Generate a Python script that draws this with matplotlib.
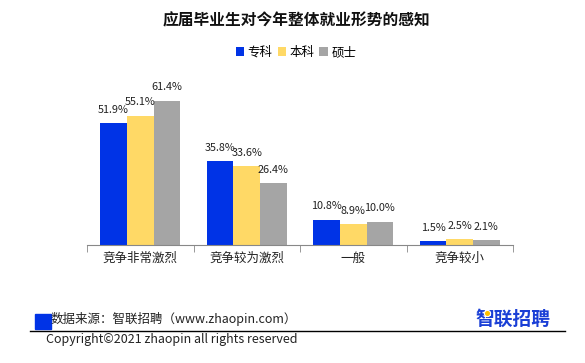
import matplotlib
matplotlib.use("Agg")
import matplotlib.pyplot as plt
import numpy as np

plt.rcParams['font.family'] = ['Noto Sans CJK SC', 'DejaVu Sans']

categories = ['竞争非常激烈', '竞争较为激烈', '一般', '竞争较小']
series_names = ['专科', '本科', '硕士']
zhuanke = [51.9, 35.8, 10.8, 1.5]
benke = [55.1, 33.6, 8.9, 2.5]
shuoshi = [61.4, 26.4, 10.0, 2.1]
colors = ['#0033E6', '#FFD966', '#A5A5A5']

W, H = 585, 363
fig = plt.figure(figsize=(W/100, H/100), dpi=100)
ax = fig.add_axes([87/W, 1-245/H, (513-87)/W, (245-80.5)/H])

x = np.arange(len(categories))
bw = 0.25
for i, (vals, c, name) in enumerate(zip([zhuanke, benke, shuoshi], colors, series_names)):
    bars = ax.bar(x + (i-1)*bw, vals, width=bw, color=c, label=name)
    for b, v in zip(bars, vals):
        ax.annotate(f'{v}%', (b.get_x()+b.get_width()/2, v), xytext=(0, 6),
                    textcoords='offset points', ha='center', va='bottom',
                    fontsize=7.8, color='#222222')

ax.set_xlim(-0.5, len(categories)-0.5)
ax.set_ylim(0, 70)
for s in ['top', 'right', 'left']:
    ax.spines[s].set_visible(False)
ax.spines['bottom'].set_color('#888888')
ax.yaxis.set_visible(False)
ax.set_xticks(x)
ax.set_xticklabels(categories, fontsize=9, color='#222222')
ax.tick_params(axis='x', which='major', length=0, pad=5)
ax.set_xticks(np.arange(-0.5, len(categories)), minor=True)
ax.tick_params(axis='x', which='minor', length=5, color='#888888', direction='out')

fig.text(296/W, 1-20.5/H, '应届毕业生对今年整体就业形势的感知', ha='center', va='center',
         fontsize=11.3, fontweight='bold', color='#111111')

leg = fig.legend(loc='center', bbox_to_anchor=(296/W, 1-52.5/H), ncol=3, frameon=False,
                 fontsize=9, handlelength=0.65, handleheight=0.65, handletextpad=0.3,
                 columnspacing=0.4)

# footer
fig.patches.append(plt.Rectangle((35/W, 1-329/H), 16/W, 15/H, transform=fig.transFigure,
                                 color='#0033E6', figure=fig))
fig.text(51/W, 1-319/H, '数据来源：智联招聘（www.zhaopin.com）', ha='left', va='center',
         fontsize=9, color='#222222')
fig.add_artist(plt.Line2D([30/W, 565/W], [1-331/H, 1-331/H], transform=fig.transFigure,
                          color='black', linewidth=1))
fig.text(46/W, 1-340/H, 'Copyright©2021 zhaopin all rights reserved', ha='left', va='center',
         fontsize=9, color='#222222')
fig.text(513/W, 1-319/H, '智联招聘', ha='center', va='center', fontsize=13.5,
         fontweight='bold', color='#1A3FD6')
fig.add_artist(plt.Line2D([487/W], [1-313/H], transform=fig.transFigure, marker='o',
                          markersize=4.5, markerfacecolor='#FFC000', markeredgecolor='white',
                          markeredgewidth=0.8, linestyle='none', zorder=10))

fig.savefig('out.png', dpi=100)
